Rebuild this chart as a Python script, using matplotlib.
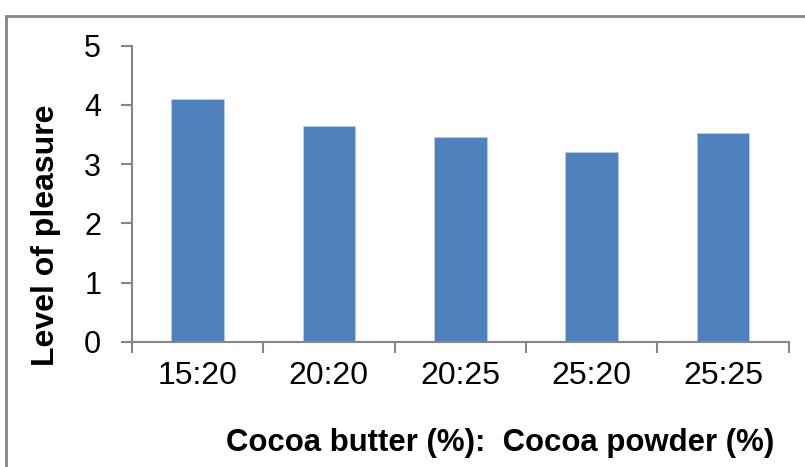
import matplotlib.pyplot as plt
import numpy as np
from matplotlib.patches import Rectangle

# data
ratios = ['15:20', '20:20', '20:25', '25:20', '25:25']
pleasure = [4.1, 3.65, 3.45, 3.2, 3.53]

plt.rcParams['font.family'] = ['Liberation Sans', 'DejaVu Sans']

fig = plt.figure(figsize=(8.05, 4.67), dpi=100)
ax = fig.add_axes([0.1636, 0.2683, 0.8162, 0.6338])

x = np.arange(len(ratios))
ax.bar(x, pleasure, width=0.4, color='#4F81BD', edgecolor='#B9CDE5', linewidth=0.6, zorder=2)

ax.set_xlim(-0.5, len(ratios) - 0.5)
ax.set_ylim(0, 5)
ax.set_yticks(range(0, 6))

ax.set_xticks(x)
ax.set_xticklabels(ratios)
ax.set_xticks(np.arange(-0.5, len(ratios)), minor=True)
ax.tick_params(axis='x', which='major', length=0, pad=14, labelsize=23)
ax.tick_params(axis='x', which='minor', length=8, width=1.5, color='#868686', direction='out')
ax.tick_params(axis='y', length=8, width=1.5, color='#868686', pad=14, labelsize=22)

for s in ['top', 'right']:
    ax.spines[s].set_visible(False)
for s in ['left', 'bottom']:
    ax.spines[s].set_color('#868686')
    ax.spines[s].set_linewidth(1.5)

# axis titles
fig.text(46 / 805, 1 - 235 / 467, 'Level of pleasure', fontsize=23, fontweight='bold',
         rotation=90, ha='center', va='center')
fig.text(500 / 805, 1 - 443 / 467, 'Cocoa butter (%):  Cocoa powder (%)',
         fontsize=22.4, fontweight='bold', ha='center', va='center')

# outer frame (only top and left edges are visible in the reference)
fig.patches.append(Rectangle((6 / 805, -0.1), 1.2, 1 - 15.5 / 467 + 0.1,
                             transform=fig.transFigure, fill=False,
                             edgecolor='#868686', linewidth=2))

plt.savefig('out.png', dpi=100)
